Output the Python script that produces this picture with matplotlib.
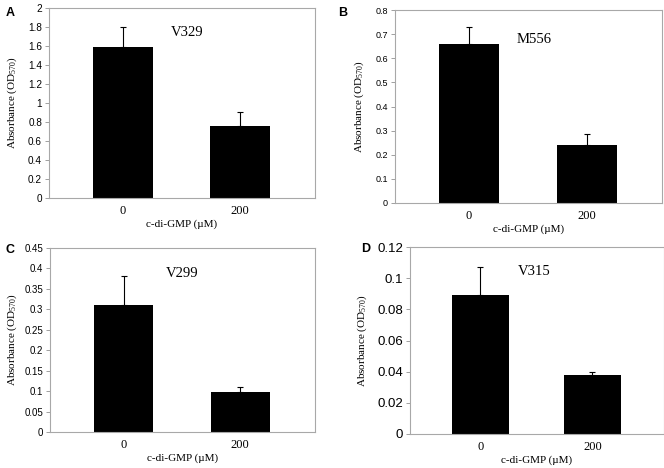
import matplotlib.pyplot as plt

plt.rcParams["mathtext.fontset"] = "custom"
plt.rcParams["mathtext.rm"] = "Liberation Serif"
plt.rcParams["mathtext.it"] = "Liberation Serif:italic"

# data
doses = ["0", "200"]
strains = ["V329", "M556", "V299", "V315"]
letters = ["A", "B", "C", "D"]
means_a = [1.59, 0.76]
err_a = [0.21, 0.145]
means_b = [0.66, 0.24]
err_b = [0.07, 0.045]
means_c = [0.31, 0.098]
err_c = [0.072, 0.012]
means_d = [0.089, 0.038]
err_d = [0.018, 0.0015]

yticks_a = [0, 0.2, 0.4, 0.6, 0.8, 1, 1.2, 1.4, 1.6, 1.8, 2]
yticks_b = [0, 0.1, 0.2, 0.3, 0.4, 0.5, 0.6, 0.7, 0.8]
yticks_c = [0, 0.05, 0.1, 0.15, 0.2, 0.25, 0.3, 0.35, 0.4, 0.45]
yticks_d = [0, 0.02, 0.04, 0.06, 0.08, 0.1, 0.12]

W, H = 664, 468
fig = plt.figure(figsize=(W / 100, H / 100), dpi=100)

serif = "Liberation Serif"
sans = "Liberation Sans"

# pixel boxes (left, top, right, bottom), tick size, ylabel x, letter pos, note pos
panels = [
    (means_a, err_a, yticks_a, (49, 8, 315, 198), 7.2, 12, (10, 13), (0.52, 0.87)),
    (means_b, err_b, yticks_b, (395, 10, 662, 203), 6.5, 359, (343, 13), (0.52, 0.845)),
    (means_c, err_c, yticks_c, (50, 248, 315, 432), 7.0, 12, (10, 250), (0.5, 0.86)),
    (means_d, err_d, yticks_d, (410, 247, 664, 434), 9.5, 362, (366, 249), (0.49, 0.87)),
]

for i, (m, e, yt, box, tfs, ylx, lpos, npos) in enumerate(panels):
    l, t, r, b = box
    ax = fig.add_axes([l / W, 1 - b / H, (r - l) / W, (b - t) / H])
    x = range(len(doses))
    ax.bar(x, m, width=0.51, color="black", zorder=2)
    ax.errorbar(x, m, yerr=[[0] * len(e), e], fmt="none", ecolor="black",
                elinewidth=0.8, capsize=2.5, capthick=0.8, zorder=1)
    ax.set_xlim(-0.63, 1.64)
    ax.set_ylim(yt[0], yt[-1])
    ax.set_yticks(yt)
    ax.set_yticklabels([f"{v:g}" for v in yt], fontfamily=sans, fontsize=tfs)
    ax.set_xticks(list(x))
    ax.set_xticklabels(doses, fontfamily=serif, fontsize=9)
    ax.tick_params(axis="x", length=0, pad=5)
    ax.tick_params(axis="y", length=3, width=0.6, color="#909090", pad=2)
    for s in ax.spines.values():
        s.set_color("#a8a8a8")
        s.set_linewidth(0.8)
    ax.set_xlabel("c-di-GMP (\u00b5M)", fontfamily=serif, fontsize=8, labelpad=1.5)
    fig.text(ylx / W, 1 - ((t + b) / 2) / H, "Absorbance (OD$_{570}$)",
             rotation=90, ha="center", va="center", fontfamily=serif, fontsize=8)
    ax.text(npos[0], npos[1], strains[i], transform=ax.transAxes, ha="center",
            va="center", fontfamily=serif, fontsize=10.5)
    fig.text(lpos[0] / W, 1 - lpos[1] / H, letters[i], ha="center",
             va="center", fontfamily=sans, fontweight="bold", fontsize=9)

fig.savefig("out.png", dpi=100)
